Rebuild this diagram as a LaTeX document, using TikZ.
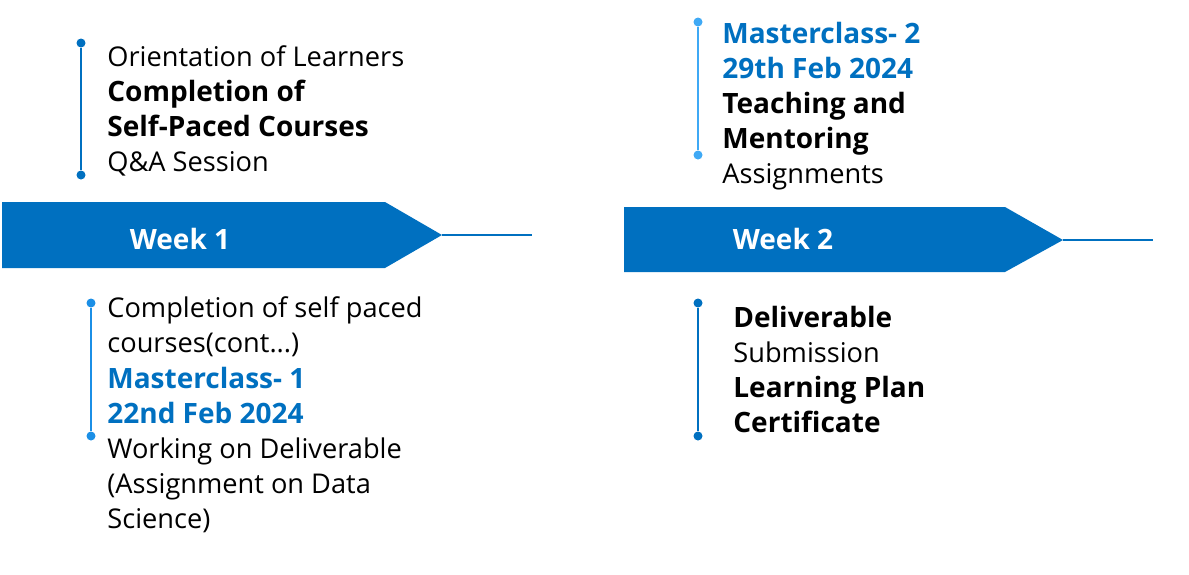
\documentclass[tikz,border=0pt]{standalone}
\usepackage{fontspec}
\setmainfont{Open Sans}
\definecolor{mainblue}{HTML}{0070C0}
\definecolor{lightblue}{HTML}{3FA9F5}
\definecolor{midblue}{HTML}{1B8FE6}
\begin{document}
\begin{tikzpicture}[x=0.5pt,y=-0.5pt,
  txt/.style={anchor=base west,inner sep=0pt,font=\fontsize{13.6pt}{17.5pt}\selectfont,text=black},
  bt/.style={txt,font=\fontsize{14pt}{17.5pt}\selectfont\bfseries},
  blt/.style={bt,text=mainblue},
  wk/.style={anchor=base,inner sep=0pt,text=white,font=\fontsize{14pt}{14pt}\selectfont\bfseries},
  banner/.style={fill=mainblue,draw=none},
  tail/.style={draw=mainblue,line width=1.2pt},
  bar/.style={line width=1.4pt},
  dot/.style={circle,inner sep=0pt,minimum size=4.5pt}]
\useasboundingbox (0,0) rectangle (1189,574);
% banners
\fill[banner] (2,202) -- (385,202) -- (442,235) -- (385,268) -- (2,268) -- cycle;
\coordinate (t1) at (442,235);
\coordinate (e1) at (532,235);
\draw[tail] (t1) -- (e1);
\node[wk] (w1) at (180,249) {Week 1};
\fill[banner] (624,207) -- (1005,207) -- (1063,240) -- (1005,272) -- (624,272) -- cycle;
\coordinate (t2) at (1063,240);
\coordinate (e2) at (1153,240);
\draw[tail] (t2) -- (e2);
\node[wk] (w2) at (783,249) {Week 2};
% bars
\node[dot,fill=mainblue] (a1) at (81,43) {};
\node[dot,fill=mainblue] (a2) at (81,175) {};
\draw[bar,mainblue] (a1) -- (a2);
\node[dot,fill=lightblue] (b1) at (698,22) {};
\node[dot,fill=lightblue] (b2) at (698,155) {};
\draw[bar,lightblue] (b1) -- (b2);
\node[dot,fill=midblue] (c1) at (91,303) {};
\node[dot,fill=midblue] (c2) at (91,436) {};
\draw[bar,midblue] (c1) -- (c2);
\node[dot,fill=mainblue] (d1) at (698,303) {};
\node[dot,fill=mainblue] (d2) at (698,436) {};
\draw[bar,mainblue] (d1) -- (d2);
% top-left text
\node[txt] (tl1) at (107,66) {Orientation of Learners};
\node[bt] (tl2) at (107,101) {Completion of};
\node[bt] (tl3) at (107,136) {Self-Paced Courses};
\node[txt] (tl4) at (107,171) {Q\&A Session};
% top-right text
\node[blt] (tr1) at (722,43) {Masterclass- 2};
\node[blt] (tr2) at (722,78) {29th Feb 2024};
\node[bt] (tr3) at (722,113) {Teaching and};
\node[bt] (tr4) at (722,148) {Mentoring};
\node[txt] (tr5) at (722,183) {Assignments};
% bottom-left text
\node[txt] (bl1) at (107,317) {Completion of self paced};
\node[txt] (bl2) at (107,352) {courses(cont...)};
\node[blt] (bl3) at (107,388) {Masterclass- 1};
\node[blt] (bl4) at (107,423) {22nd Feb 2024};
\node[txt] (bl5) at (107,458) {Working on Deliverable};
\node[txt] (bl6) at (107,493) {(Assignment on Data};
\node[txt] (bl7) at (107,528) {Science)};
% bottom-right text
\node[bt] (br1) at (733,327) {Deliverable};
\node[txt] (br2) at (733,362) {Submission};
\node[bt] (br3) at (733,397) {Learning Plan};
\node[bt] (br4) at (733,432) {Certificate};
\end{tikzpicture}
\end{document}
